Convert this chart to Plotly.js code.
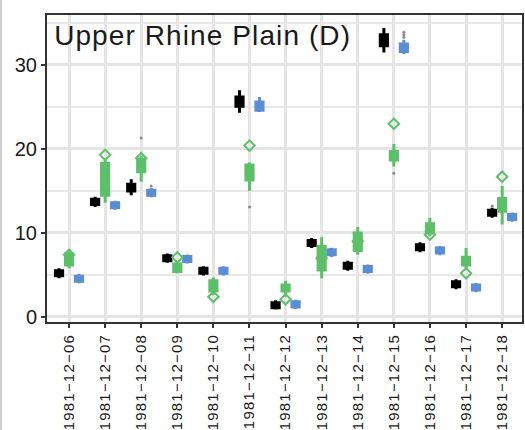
<!DOCTYPE html>
<html>
<head>
<meta charset="utf-8">
<script src="https://cdn.plot.ly/plotly-3.0.1.min.js"></script>
<style>
  html, body { margin: 0; padding: 0; background: #ffffff; }
  #chart { width: 525px; height: 430px; }
  .gtitle { letter-spacing: 1.1px; }
  .xtick text { letter-spacing: 1.2px; }
</style>
</head>
<body>
<div id="chart"></div>
<script>
// Categories (dates)
const dates = ["1981−12−06","1981−12−07","1981−12−08","1981−12−09","1981−12−10","1981−12−11","1981−12−12",
               "1981−12−13","1981−12−14","1981−12−15","1981−12−16","1981−12−17","1981−12−18"];

// Black series (box statistics)
const blackLow  = [4.6, 13.1, 14.5, 6.45, 4.95, 24.3, 0.9, 8.2, 5.5, 31.5, 7.7, 3.3, 11.8];
const blackQ1   = [4.9, 13.4, 15.0, 6.7, 5.2, 25.1, 1.1, 8.5, 5.8, 32.3, 8.0, 3.6, 12.1];
const blackMed  = [5.2, 13.7, 15.4, 7.0, 5.5, 25.6, 1.4, 8.8, 6.1, 33.0, 8.3, 3.9, 12.4];
const blackQ3   = [5.5, 14.0, 15.8, 7.3, 5.8, 26.2, 1.7, 9.1, 6.4, 33.6, 8.6, 4.2, 12.7];
const blackHigh = [5.8, 14.3, 16.4, 7.55, 6.05, 27.0, 2.0, 9.4, 6.7, 34.4, 8.9, 4.5, 13.0];
// Outliers: parallel arrays of category and value
const blackOutX = ["1981−12−18"];
const blackOutY = [13.2];

// Green series (box statistics + diamond value)
const greenLow  = [5.8, 13.6, 16.1, 5.2, 2.6, 15.0, 2.4, 4.6, 7.4, 17.9, 9.6, 5.6, 11.0];
const greenQ1   = [6.2, 14.5, 17.3, 5.4, 3.1, 16.3, 3.1, 5.6, 7.9, 18.7, 10.0, 6.2, 12.6];
const greenMed  = [6.9, 16.5, 18.2, 5.9, 3.6, 17.2, 3.4, 7.0, 8.8, 19.2, 10.5, 6.6, 13.3];
const greenQ3   = [7.5, 18.3, 18.8, 6.3, 4.3, 18.1, 3.8, 8.4, 10.0, 19.7, 11.1, 7.1, 14.1];
const greenHigh = [8.0, 18.7, 19.2, 6.7, 4.7, 18.4, 4.3, 9.5, 10.7, 20.6, 11.8, 8.2, 15.6];
const greenDiamond = [7.4, 19.3, 18.9, 7.1, 2.4, 20.4, 2.1, 7.0, 9.0, 23.0, 9.8, 5.2, 16.7];
const greenOutX = ["1981−12−08", "1981−12−11", "1981−12−15"];
const greenOutY = [21.3, 13.1, 17.1];

// Blue series (box statistics)
const blueLow  = [4.0, 12.75, 14.25, 6.35, 4.95, 24.4, 0.95, 7.15, 5.15, 31.3, 7.35, 2.95, 11.35];
const blueQ1   = [4.25, 13.0, 14.5, 6.6, 5.2, 24.6, 1.2, 7.4, 5.4, 31.6, 7.6, 3.2, 11.6];
const blueMed  = [4.55, 13.3, 14.8, 6.9, 5.5, 25.1, 1.5, 7.7, 5.7, 32.0, 7.9, 3.5, 11.9];
const blueQ3   = [4.85, 13.6, 15.1, 7.2, 5.8, 25.6, 1.8, 8.0, 6.0, 32.5, 8.2, 3.8, 12.2];
const blueHigh = [5.15, 13.85, 15.35, 7.45, 6.05, 26.2, 2.05, 8.25, 6.25, 33.0, 8.45, 4.05, 12.45];
const blueOutX = ["1981−12−08", "1981−12−15", "1981−12−15", "1981−12−15"];
const blueOutY = [15.6, 33.3, 33.6, 33.9];

const yTicks = [0, 10, 20, 30];
const yMinor = [5, 15, 25, 35];

const BLACK = "#000000", GREEN = "#5ebf6b", BLUE = "#5b8dd3";

function boxTrace(group, color, low, q1, med, q3, high) {
  return {
    type: "box", name: group, x: dates, offsetgroup: group,
    lowerfence: low, q1: q1, median: med, q3: q3, upperfence: high,
    fillcolor: color, line: { color: color, width: 3 },
    whiskerwidth: 0, boxpoints: false,
    hoverinfo: "skip", showlegend: false
  };
}
function outTrace(group, xs, ys) {
  return {
    type: "scatter", mode: "markers", x: xs, y: ys, offsetgroup: group,
    marker: { color: "#8a8a8a", size: 3 },
    hoverinfo: "skip", showlegend: false
  };
}

const traces = [
  boxTrace("black", BLACK, blackLow, blackQ1, blackMed, blackQ3, blackHigh),
  boxTrace("green", GREEN, greenLow, greenQ1, greenMed, greenQ3, greenHigh),
  boxTrace("blue", BLUE, blueLow, blueQ1, blueMed, blueQ3, blueHigh),
  outTrace("black", blackOutX, blackOutY),
  outTrace("green", greenOutX, greenOutY),
  outTrace("blue", blueOutX, blueOutY),
  {
    type: "scatter", mode: "markers", x: dates, y: greenDiamond, offsetgroup: "green",
    marker: { symbol: "diamond-open", size: 8, color: GREEN, line: { color: GREEN, width: 2 } },
    hoverinfo: "skip", showlegend: false
  }
];

const layout = {
  width: 525, height: 430,
  margin: { l: 47, r: 3, t: 15, b: 108, pad: 0 },
  paper_bgcolor: "#ffffff", plot_bgcolor: "#ffffff",
  font: { family: "Liberation Sans, Arial, sans-serif", color: "#1a1a1a" },
  title: {
    text: "Upper Rhine Plain (D)",
    font: { size: 28, color: "#1a1a1a", family: "Liberation Sans, Arial, sans-serif" },
    xref: "paper", x: 0.015, xanchor: "left",
    yref: "container", y: 1 - 35 / 430, yanchor: "middle"
  },
  boxmode: "group", boxgap: 0.17, boxgroupgap: 0.28,
  scattermode: "group", scattergap: 0.17,
  showlegend: false,
  xaxis: {
    type: "category", range: [-0.61, 12.55],
    tickangle: -90, tickfont: { size: 15, color: "#1a1a1a" },
    showgrid: true, gridcolor: "#e5e5e5", gridwidth: 3,
    showline: true, mirror: true, linecolor: "#333333", linewidth: 2,
    ticks: "outside", ticklen: 4, tickwidth: 2, tickcolor: "#333333",
    zeroline: false, fixedrange: true
  },
  yaxis: {
    range: [-0.6, 35.95], tickmode: "array", tickvals: yTicks, ticktext: yTicks.map(String),
    tickfont: { size: 20, color: "#1a1a1a" },
    showgrid: true, gridcolor: "#e5e5e5", gridwidth: 3,
    minor: { tickmode: "array", tickvals: yMinor, showgrid: true, gridcolor: "#e8e8e8", gridwidth: 2, ticks: "" },
    showline: true, mirror: true, linecolor: "#333333", linewidth: 2,
    ticks: "outside", ticklen: 4, tickwidth: 2, tickcolor: "#333333",
    zeroline: false, fixedrange: true
  },
  shapes: [{
    type: "line", xref: "paper", yref: "paper",
    x0: -46 / 475, x1: -46 / 475, y0: -108 / 307, y1: 1 + 15 / 307,
    line: { color: "#cfcfcf", width: 2 }
  }]
};

Plotly.newPlot("chart", traces, layout, { displayModeBar: false, staticPlot: true });
</script>
</body>
</html>
